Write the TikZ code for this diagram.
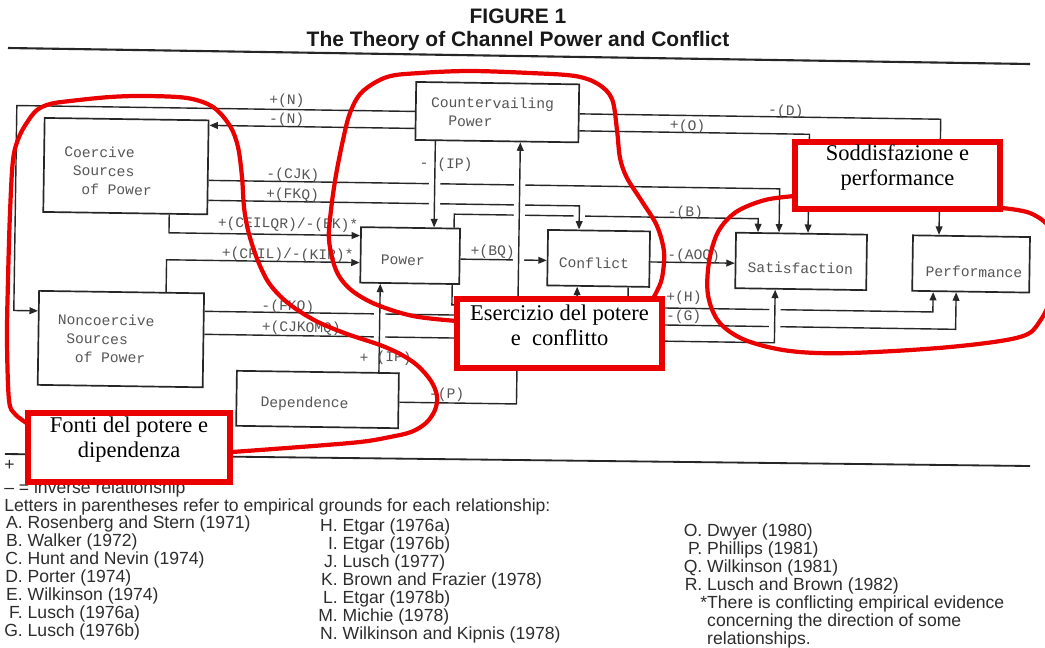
\documentclass[tikz,border=0pt]{standalone}
\usepackage{fontspec}
\setmainfont{Liberation Serif}
\setsansfont{Liberation Sans}
\setmonofont{Liberation Mono}
\usetikzlibrary{arrows.meta,fit}
\pgfdeclarelayer{links}
\pgfsetlayers{links,main}

\definecolor{ink}{RGB}{38,38,38}
\definecolor{typeink}{RGB}{85,85,85}
\definecolor{printink}{RGB}{45,45,45}
\definecolor{marker}{RGB}{235,0,0}

\begin{document}
\begin{tikzpicture}[x=0.025cm, y=-0.025cm,
  skewed/.style={transform canvas={rotate around={-0.85:(520,300)}}},
  boxframe/.style={draw=ink, line width=1.2pt, rectangle, inner sep=0pt},
  tw/.style={font=\fontsize{10.4}{13.2}\selectfont\ttfamily, text=typeink, inner sep=0pt},
  boxtext/.style={tw, align=left, anchor=west},
  flow/.style={draw=ink, line width=1pt, -{Triangle[length=6pt,width=4.8pt]}},
  bridge/.style={preaction={draw=white, -, line width=8pt, shorten <=6pt, shorten >=6pt}},
  hrule/.style={draw=ink, line width=1.5pt},
  foot/.style={font=\fontsize{12.5}{12.8}\selectfont\sffamily, text=printink, inner sep=0pt},
  marked/.style={draw=marker, line width=3pt, line cap=round, line join=round},
  markbox/.style={draw=marker, line width=3.6pt, fill=white, inner sep=0pt, align=center,
                  font=\fontsize{16}{17.8}\selectfont\rmfamily, text=black}]

\useasboundingbox (0,0) rectangle (1045,647);
\begin{pgfonlayer}{links}
  \fill[white] (0,0) rectangle (1045,647);
\end{pgfonlayer}

% ---------- heading and rules ----------
\node[font=\fontsize{14.9}{16.4}\selectfont\sffamily\bfseries, text=black!90, align=center, inner sep=0pt]
  (heading) at (518,29.5) {FIGURE 1\\The Theory of Channel Power and Conflict};
\draw[hrule] (8,48) -- (1030,64);
\draw[hrule, line width=1.3pt] (5,454) -- (1030,466);

% ---------- boxes ----------
\begin{scope}[skewed]
  \node[boxframe, fit={(42,125) (206,219)}] (coercive) {};
  \node[boxframe, fit={(39,298) (204,392)}] (noncoercive) {};
  \node[boxframe, fit={(413,83.5) (576,141.5)}] (countervailing) {};
  \node[boxframe, fit={(360,229.5) (459,285)}] (power) {};
  \node[boxframe, fit={(547,229.5) (649,285)}] (conflict) {};
  \node[boxframe, fit={(735,229.5) (866,285)}] (satisfaction) {};
  \node[boxframe, fit={(912,229.5) (1029,285)}] (performance) {};
  \node[boxframe, fit={(238,375) (400,430)}] (dependence) {};

  \node[boxtext] (coercive-t) at (62,177) {Coercive\\\hspace*{0.6em}Sources\\\hspace*{1.2em}of Power};
  \node[boxtext] (noncoercive-t) at (58,345) {Noncoercive\\\hspace*{0.6em}Sources\\\hspace*{1.2em}of Power};
  \node[boxtext] (countervailing-t) at (428,112.5) {Countervailing\\\hspace*{1.2em}Power};
  \node[boxtext] (power-t) at (380,262) {Power};
  \node[boxtext] (conflict-t) at (558,262) {Conflict};
  \node[boxtext] (satisfaction-t) at (747,264) {Satisfaction};
  \node[boxtext] (performance-t) at (925,265) {Performance};
  \node[boxtext] (dependence-t) at (262,407) {Dependence};

  % relationship labels
  \node[tw] (l-pn) at (284,104.5) {+(N)};
  \node[tw] (l-mn) at (284,123.5) {-(N)};
  \node[tw] (l-md) at (783,107.5) {-(D)};
  \node[tw] (l-po) at (685,124) {+(O)};
  \node[tw] (l-cjk) at (291,178.5) {-(CJK)};
  \node[tw] (l-fkq) at (291,198.5) {+(FKQ)};
  \node[tw] (l-ceil) at (287,228) {+(CEILQR)/-(BK)*};
  \node[tw] (l-cfil) at (287,258.5) {+(CFIL)/-(KIR)*};
  \node[tw] (l-ipm) at (422,166.5) {-};
  \node[tw] (l-ip1) at (453,166) {(IP)};
  \node[tw] (l-bq) at (492,252.5) {+(BQ)};
  \node[tw] (l-b) at (684,210.5) {-(B)};
  \node[tw] (l-aoq) at (693,253.5) {-(AOQ)};
  \node[tw] (l-h) at (684,295.5) {+(H)};
  \node[tw] (l-g) at (684,314.5) {-(G)};
  \node[tw] (l-nfkq) at (288,310.5) {-(FKQ)};
  \node[tw, anchor=west] (l-cjkomq) at (262,331.5) {+(CJKOMQ)};
  \node[tw] (l-ipp) at (365,360.5) {+};
  \node[tw] (l-ip2) at (395,360) {(IP)};
  \node[tw] (l-p) at (448,396) {-(P)};
\end{scope}

% ---------- connectors ----------
\begin{pgfonlayer}{links}
\begin{scope}[skewed]
  \coordinate (loop) at (14,318);
  \draw[flow] (countervailing.west |- 0,113) -| (loop) -- (noncoercive.west |- loop);
  \draw[flow] (countervailing.west |- 0,130) -- (coercive.east |- 0,130);
  \draw[flow] (countervailing.east |- 0,113) -| (performance.north -| 938,0);
  \draw[flow] (countervailing.east |- 0,130) -| (satisfaction.north -| 807,0);
  \draw[flow] (coercive.east |- 0,185) -| (satisfaction.north -| 778,0);
  \draw[flow] (power.north -| 453,0) -- ++(0,-13.5) -| (satisfaction.north -| 757,0);
  \draw[flow,bridge] (coercive.east |- 0,205) -| (conflict.north -| 578,0);
  \draw[flow] (coercive.south -| 168,0) |- (power.west |- 0,238);
  \draw[flow] (noncoercive.north -| 166,0) |- (power.west |- 0,265);
  \draw[flow] (power.east |- 0,260) -- (conflict.west |- 0,260);
  \draw[flow] (conflict.east |- 0,260) -- (satisfaction.west |- 0,260);
  \draw[flow] (power.south -| 452,0) -- ++(0,20) -| (performance.south -| 933,0);
  \draw[flow,bridge] (conflict.south -| 628,0) -- ++(0,37) -| (performance.south -| 956,0);
  \draw[flow,bridge] (noncoercive.east |- 0,316) -| (conflict.south -| 577,0);
  \draw[flow,bridge] (noncoercive.east |- 0,339) -| (satisfaction.south -| 775,0);
  \draw[flow,bridge] (dependence.north -| 380,0) -- (power.south -| 380,0);
  \draw[flow,bridge] (countervailing.south -| 433,0) -- (power.north -| 433,0);
  \draw[flow,bridge] (dependence.east |- 0,404) -| (countervailing.south -| 518,0);
\end{scope}
\end{pgfonlayer}

% ---------- legend and references ----------
\node[foot, anchor=base west] (plus) at (4,470) {+};
\node[foot, anchor=base west] (minus) at (4,493) {\textendash\ = inverse relationship};
\node[foot, anchor=base west] (letters) at (4,511) {Letters in parentheses refer to empirical grounds for each relationship:};
\node[foot, anchor=base west] (refs-a) at (4,528) {\begin{tabular}[t]{@{}r@{\ }l@{}}
  A. & Rosenberg and Stern (1971)\\ B. & Walker (1972)\\ C. & Hunt and Nevin (1974)\\
  D. & Porter (1974)\\ E. & Wilkinson (1974)\\ F. & Lusch (1976a)\\ G. & Lusch (1976b)\end{tabular}};
\node[foot, anchor=base west] (refs-h) at (318,531) {\begin{tabular}[t]{@{}r@{\ }l@{}}
  H. & Etgar (1976a)\\ I. & Etgar (1976b)\\ J. & Lusch (1977)\\ K. & Brown and Frazier (1978)\\
  L. & Etgar (1978b)\\ M. & Michie (1978)\\ N. & Wilkinson and Kipnis (1978)\end{tabular}};
\node[foot, anchor=base west] (refs-o) at (683.5,536) {\begin{tabular}[t]{@{}r@{\ }l@{}}
  O. & Dwyer (1980)\\ P. & Phillips (1981)\\ Q. & Wilkinson (1981)\\ R. & Lusch and Brown (1982)\\
  & \llap{*}There is conflicting empirical evidence\\ & concerning the direction of some\\ & relationships.\end{tabular}};

% ---------- hand-drawn groupings ----------
\draw[marked] plot[smooth, tension=0.55] coordinates {(28,424) (15,414) (9,400) (7,340) (8,280) (10,213) (13,160) (19,137) (28,121) (37,110) (50,104) (70,101) (110,97) (145,96) (187,98) (213,107) (230,126) (238,147) (242,177) (244,207) (248,230) (256,256) (267,280) (280,296) (296,309) (318,322) (347,334) (380,345) (402,355) (418,366) (431,381) (437,396) (435,410) (426,423) (411,432) (390,437) (360,442) (300,447) (232,452)};
\draw[marked] plot[smooth, tension=0.55] coordinates {(457,321) (413,316) (375,304) (350,289) (336,270) (329,240) (331,210) (336,175) (343,140) (350,113) (362,92) (387,77) (420,73) (470,71) (530,73) (575,76) (598,84) (612,99) (617,130) (620,158) (627,178) (643,203) (657,226) (664,252) (662,278) (656,293) (652,300)};
\draw[marked] plot[smooth, tension=0.55] coordinates {(795,196) (765,200) (736,212) (718,232) (709,262) (708,295) (719,322) (745,340) (790,351) (850,353) (950,347) (1020,337) (1040,321) (1054,290) (1057,255) (1050,228) (1030,213) (1002,208)};

\node[markbox, fit={(28,413) (230,482)}] (fonti) {Fonti del potere e\\dipendenza};
\node[markbox, fit={(457,299) (662,368)}] (esercizio) {Esercizio del potere\\e~~conflitto};
\node[markbox, fit={(795,142) (1000,209)}] (soddisfazione) {Soddisfazione e\\performance};
\end{tikzpicture}
\end{document}
